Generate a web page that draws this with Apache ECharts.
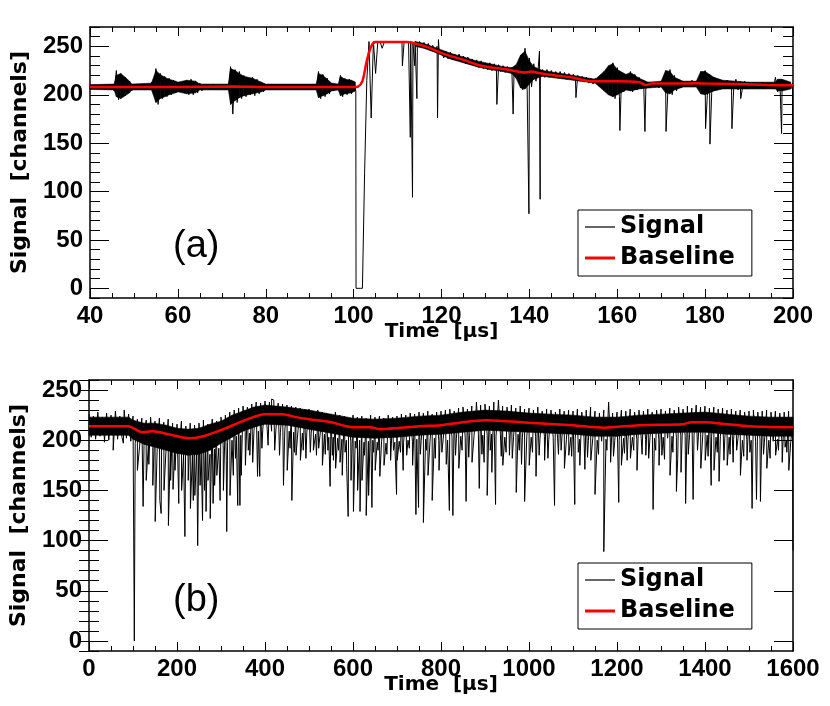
<!DOCTYPE html>
<html>
<head>
<meta charset="utf-8">
<script src="https://cdn.jsdelivr.net/npm/echarts@6/dist/echarts.min.js"></script>
<style>
  html, body { margin: 0; padding: 0; background: #fff; }
  #chart { width: 830px; height: 706px; }
</style>
</head>
<body>
<div id="chart"></div>
<script>
// panel (a): 40..200 us, samples every 0.5 us
var sigA_t0 = 40
var sigA_step = 0.5
var sigA = [
  209,206,210,207,209,206,210,207,210,206, 210,204,225,195,221,198,218,201,214,204,
  211,206,210,205,211,206,210,205,213,201, 227,190,222,196,219,198,217,200,215,202,
  213,203,212,204,215,200,216,200,214,202, 212,204,211,206,210,206,211,205,210,206,
  210,206,211,205,229,180,226,192,224,196, 220,198,217,200,218,199,216,201,213,203,
  211,205,210,206,210,206,209,206,210,206, 210,206,209,207,210,206,210,206,209,207,
  210,206,210,205,224,196,221,198,217,201, 212,204,211,205,220,198,217,200,216,201,
  214,204,0,0,0,120,215,255,176,255, 222,255,255,248,255,255,255,255,255,255,
  255,255,255,255,255,255,255,253,255,250, 255,249,254,248,253,246,251,245,250,243,
  246,238,245,237,244,236,242,235,242,234, 240,232,239,231,237,230,236,228,235,227,
  233,226,233,225,232,225,231,224,230,223, 229,223,228,221,228,218,240,205,248,204,
  238,208,232,214,227,219,226,218,226,218, 225,218,224,217,224,217,223,216,222,216,
  221,215,220,214,219,213,218,212,217,211, 217,211,217,211,222,205,228,200,233,196,
  228,198,222,203,220,206,224,203,221,205, 218,206,215,206,213,207,212,208,213,207,
  214,208,222,202,226,200,220,204,216,207, 214,209,214,208,215,209,214,208,222,202,
  225,199,221,202,218,205,216,206,214,207, 215,207,214,206,216,205,214,207,214,208,
  213,207,213,207,212,207,213,206,212,207, 212,206,218,203,216,204,214,205,213,206,
  39
]
var spikesA = [
  [100.55,0],[102.1,0],[111.1,230],[112.9,156],[113.4,94],[113.9,230],[114.4,196],
  [119.1,176],[119.3,257],[132.6,190],[136.3,180],[139.9,77],[142.3,245],[142.45,92],
  [150.6,197],[160.6,163],[166.3,162],[171.1,162],[180.1,165],[181.1,149],[186.1,165],
  [188.1,196],[197.4,160],[199.9,212]
]
// dense part of the noise: [time, low, high]
var bandA = [
  [40,205.5,210.5],[45.5,205,211],[46,198,220],[47,196,222],[48,199,218],[49,202,214],
  [49.5,205,211],[54,205,212],[55,192,225],[56,196,221],[57,198,218],[58,200,216],
  [59.5,202,214],[60,203,213],[62,201,215],[64,202,214],[65,205,211],[71.5,205,211],
  [72,190,227],[73,194,225],[74,197,222],[75,199,219],[77,201,217],[79,203,213],
  [80,205,211],[91.5,205,211],[92,197,222],[93,199,220],[94,201,216],[95,204,212],
  [96.5,205,211],[97,199,219],[98,201,216],[99.5,202,215],[100.4,204,213],
  [107,null,null],
  [114,250,255],[116,248,253],[119,243,248],[122,237,243],[125,233,239],[128,229,235],
  [131,226,232],[134,224,229],[136,222,228],[137,217,231],[138,207,241],[139,206,245],
  [140,211,235],[141,216,229],[143,219,225],[150,215,220],[155,212,216],[157,204,224],
  [158,200,230],[159,198,232],[160,200,226],[162,205,221],[163,204,223],[165,206,217],
  [167,207,213],[170,208,214],[171,202,225],[172,201,224],[173,205,218],[175,208,214],
  [178,208,214],[179,201,224],[180,200,224],[182,204,218],[184,206,215],[190,206,213],
  [196,206,213],[196.5,204,216],[197.5,204,216],[199.5,206,213]
]
var baseA = [
  [40,208],[60,208],[73,208.5],[80,208],[95,208],[100,208],[101,208.5],[102,214],
  [103,235],[104,250],[105,254.5],[112,254.5],[114,253],[117,249],[120,243],[125,236],
  [129,230],[135,226],[139,223],[140.5,224],[142,222.5],[146,220],[150,217.5],[154,214],
  [160,214],[165,213],[166.5,210],[168,211.5],[175,211.5],[178,212],[180,211.5],
  [187,211],[194,210],[200,209.7]
]

// panel (b): 0..1600 us, samples every 5 us
var sigB_t0 = 0
var sigB_step = 5
var sigB = [
  226,203,224,201,228,204,223,202,227,200, 225,204,229,201,224,203,230,202,226,199,
  224,197,221,194,222,195,220,196,223,193, 219,192,222,194,218,190,221,193,217,191,
  216,188,219,186,214,190,217,185,215,189, 217,187,220,190,216,186,221,191,219,192,
  223,195,225,198,228,200,230,204,232,205, 234,208,233,207,236,210,238,209,237,211,
  239,211,238,209,240,212,237,208,236,210, 235,209,234,208,233,210,232,207,231,208,
  231,207,229,206,230,205,228,206,227,203, 226,203,228,202,225,201,224,200,222,199,
  225,199,223,200,224,198,222,199,225,200, 223,198,224,199,222,197,225,200,223,198,
  224,199,226,198,225,200,227,199,226,201, 228,200,227,201,229,199,226,202,228,200,
  229,201,230,200,231,203,229,202,232,204, 233,203,231,205,234,204,232,206,235,205,
  236,205,234,206,238,204,235,206,234,203, 233,205,235,204,232,206,234,203,231,204,
  232,203,230,204,233,202,229,204,231,201, 230,203,228,202,231,204,229,201,230,203,
  229,202,231,201,228,203,230,200,233,202, 229,200,227,199,230,201,228,198,227,200,
  228,200,230,202,229,201,231,203,228,201, 230,202,229,201,231,203,228,202,230,201,
  231,203,229,202,232,204,230,203,233,205, 231,204,234,206,232,205,235,204,233,206,
  234,205,232,204,233,203,231,204,232,202, 230,203,231,201,229,202,230,200,228,201,
  229,200,230,199,228,201,229,198,230,200, 228,199,229,201,227,198,228,200,229,199,
  90
]
var spikesB = [
  [15,200],[35,198],[55,190],[78,197],[103,0],[110,170],[123,134],[130,160],[136,176],
  [145,155],[150.5,119],[161,140],[164,127],[170.5,150],[180.5,115],[185.5,160],[191,151],
  [195.5,170],[204,137],[210.5,150],[218,104],[225.5,160],[230.5,132],[237,140],[240.5,145],
  [247,95],[252.5,155],[258,120],[262.5,150],[266,129],[270.5,160],[275.5,122],[282,137],
  [285.5,155],[290.5,165],[298,140],[305.5,150],[312,180],[313,109],[320.5,145],[328,165],
  [333,182],[338,135],[343,135],[346,165],[355.5,175],[362,190],[365.5,185],[372,178],
  [380.5,238],[383,164],[388,164],[393,192],[407,195],[415,241],[422,190],[433,185],
  [442,155],[450.5,170],[457,192],[461,140],[467,188],[470.5,185],[480.5,180],[487,190],
  [493,182],[503,188],[510,190],[517,185],[522,192],[530.5,175],[537,186],[543,190],
  [548,154],[553,185],[555.5,180],[560.5,172],[567,190],[570.5,178],[575.5,165],[582,188],
  [585.5,175],[589,124],[595.5,160],[601,129],[607,192],[610.5,150],[616,129],[620.5,160],
  [626,185],[630,125],[635.5,145],[643,133],[647,188],[650.5,170],[657,190],[661,164],
  [670.5,175],[677,186],[685.5,180],[692,190],[699,146],[700.5,180],[708,188],[714,170],
  [722,185],[728,192],[735.5,175],[743,126],[749,133],[753,186],[760,118],[767,190],
  [770.5,165],[780,140],[787,182],[795.5,170],[802,188],[812,176],[819,130],[827,125],
  [833,185],[840.5,172],[848,190],[857,139],[863,183],[870.5,178],[880.5,238],[887,152],
  [893,186],[898,178],[905,145],[912,190],[915.5,168],[924,136],[930.5,240],[937,184],
  [940.5,175],[948,188],[955.5,185],[962,182],[971,148],[978,190],[983,176],[990,139],
  [1000.5,175],[1008,188],[1016,164],[1023,185],[1035.5,180],[1043,182],[1058,135],
  [1067,186],[1073,190],[1080.5,172],[1090.5,185],[1097,184],[1104,136],[1112,188],
  [1115.5,175],[1127,171],[1133,183],[1140.5,180],[1150,146],[1158,186],[1170,89],
  [1177,190],[1181,238],[1185.5,178],[1192,184],[1204,138],[1210,175],[1217,187],
  [1223,180],[1230.5,182],[1238,190],[1245.5,170],[1257,186],[1265.5,185],[1272,182],
  [1282,131],[1288,190],[1295.5,175],[1302,185],[1308,181],[1320.5,165],[1327,188],
  [1335,149],[1338,182],[1345.5,168],[1356,137],[1362,186],[1373,141],[1383,190],
  [1390.5,172],[1400.5,180],[1407,184],[1414,155],[1420.5,170],[1428,188],[1432,159],
  [1443,180],[1450.5,175],[1457,186],[1464,178],[1472,190],[1480.5,165],[1488,184],
  [1495.5,180],[1502,188],[1507,132],[1517,141],[1526,139],[1533,186],[1540.5,172],
  [1548,182],[1560.5,185],[1567,190],[1575.5,178],[1582,193],[1586,188],[1590.5,170],
  [1599,215]
]
var bandB = [
  [0,205,223],[90,205,223],[100,201,220],[125,196,217],[150,193,217],[175,190,215],
  [200,187,212],[225,185,211],[250,186,212],[275,190,216],[300,197,219],[325,203,225],
  [350,209,229],[375,213,233],[400,216,235],[450,215,233],[500,211,230],[550,207,226],
  [600,203,222],[650,202,221],[700,203,222],[750,205,224],[800,206,225],[850,208,228],
  [900,210,230],[950,209,229],[1000,208,227],[1050,207,226],[1100,206,225],[1150,204,223],
  [1200,204,223],[1250,206,225],[1300,207,226],[1350,208,227],[1400,208,228],[1450,206,226],
  [1500,205,224],[1550,204,223],[1600,204,223]
]
var baseB = [
  [0,214],[90,214],[105,211],[120,208],[145,209],[180,206],[230,202],[260,204],[300,210],
  [350,219],[400,226],[440,226],[470,223],[500,221],[550,218],[600,213],[640,213],[660,211],
  [700,212],[750,214],[800,215],[850,218],[900,220],[950,219],[1000,217.5],[1100,215],
  [1170,212.5],[1250,215],[1350,216],[1370,218],[1400,218],[1450,216],[1500,214],[1600,213]
]

var yMajorTicks = [0, 50, 100, 150, 200, 250]

function buildSignal(values, t0, step, spikes) {
  var pts = values.map(function (v, i) { return [t0 + i * step, v] })
  pts = pts.concat(spikes)
  pts.sort(function (a, b) { return a[0] - b[0] })
  return pts
}

// fills the dense noise between two neighbouring band entries
function renderBand(params, api) {
  var i = params.dataIndexInside
  if (i >= params.dataInsideLength - 1) return
  var lo0 = api.value(1, i), hi0 = api.value(2, i)
  var lo1 = api.value(1, i + 1), hi1 = api.value(2, i + 1)
  if (!isFinite(lo0) || !isFinite(lo1) || lo0 === null || lo1 === null) return
  var t0 = api.value(0, i), t1 = api.value(0, i + 1)
  var pts = [api.coord([t0, lo0]), api.coord([t0, hi0]), api.coord([t1, hi1]), api.coord([t1, lo1])]
  return {
    type: 'polygon',
    shape: { points: pts },
    style: { fill: '#000', stroke: '#000', lineWidth: 0.6 }
  }
}

var numFont = 'Liberation Sans'
var titleFont = 'DejaVu Sans'
var lineCol = '#000'

function xAxes(grid, min, max, interval) {
  var common = {
    type: 'value', gridIndex: grid, min: min, max: max, interval: interval,
    axisLine: { show: true, onZero: false, lineStyle: { color: lineCol, width: 1.5 } },
    axisTick: { inside: true, length: 9, lineStyle: { color: lineCol, width: 1 } },
    minorTick: { show: true, splitNumber: 4, length: 5, lineStyle: { color: lineCol, width: 1 } },
    splitLine: { show: false }
  }
  var bottom = Object.assign({}, common, {
    position: 'bottom',
    name: 'Time  [\u03bcs]',
    nameLocation: 'middle',
    nameGap: 24,
    nameMoveOverlap: false,
    nameTextStyle: { fontFamily: titleFont, fontWeight: 'bold', fontSize: 20, color: '#000' },
    axisLabel: { show: true, margin: 6, showMinLabel: true, showMaxLabel: true,
      formatter: function (v) { return String(v) },
      fontFamily: numFont, fontWeight: 'bold', fontSize: 24, color: '#000' }
  })
  var top = Object.assign({}, common, { position: 'top', axisLabel: { show: false } })
  return [bottom, top]
}

function yAxes(grid, min, max) {
  var line = { show: true, onZero: false, lineStyle: { color: lineCol, width: 1.5 } }
  var major = {
    type: 'value', gridIndex: grid, min: min, max: max,
    axisLine: line,
    axisTick: { inside: true, length: 19, customValues: yMajorTicks, lineStyle: { color: lineCol, width: 1 } },
    splitLine: { show: false }
  }
  var minor = {
    type: 'value', gridIndex: grid, min: min, max: max, interval: 10,
    axisLine: { show: false },
    axisTick: { inside: true, length: 10, lineStyle: { color: lineCol, width: 1 } },
    axisLabel: { show: false },
    splitLine: { show: false }
  }
  var left = Object.assign({}, major, {
    position: 'left',
    name: 'Signal  [channels]',
    nameLocation: 'middle',
    nameGap: 59,
    nameTextStyle: { fontFamily: titleFont, fontWeight: 'bold', fontSize: 22, color: '#000' },
    axisLabel: { show: true, margin: 7, customValues: yMajorTicks,
      fontFamily: numFont, fontWeight: 'bold', fontSize: 24, color: '#000' }
  })
  var right = Object.assign({}, major, { position: 'right', axisLabel: { show: false } })
  return [left,
    Object.assign({}, minor, { position: 'left' }),
    right,
    Object.assign({}, minor, { position: 'right' })]
}

function legendAt(top) {
  return {
    orient: 'vertical', left: 578, top: top,
    data: [
      { name: 'Signal', icon: 'path://M0,0H30V1.2H0Z' },
      { name: 'Baseline', icon: 'path://M0,0H30V3H0Z' }
    ],
    backgroundColor: '#fff',
    borderColor: '#000', borderWidth: 1, borderRadius: 0,
    padding: [5, 17, 6, 7], itemGap: 7, itemWidth: 30, itemHeight: 25,
    selectedMode: false,
    textStyle: { fontFamily: titleFont, fontWeight: 'bold', fontSize: 24, color: '#000' }
  }
}

var chart = echarts.init(document.getElementById('chart'))

var option = {
  animation: false,
  backgroundColor: '#fff',
  grid: [
    { left: 90, top: 27, width: 703, height: 271 },
    { left: 89, top: 380, width: 704, height: 271 }
  ],
  xAxis: xAxes(0, 40, 200, 20).concat(xAxes(1, 0, 1600, 200)),
  yAxis: yAxes(0, -10, 270).concat(yAxes(1, -10, 260)),
  legend: [legendAt(210), legendAt(563)],
  graphic: [
    { type: 'text', left: 173, top: 228, style: { text: '(a)', font: '38px "Liberation Sans"', fill: '#000' } },
    { type: 'text', left: 173, top: 582, style: { text: '(b)', font: '38px "Liberation Sans"', fill: '#000' } }
  ],
  series: [
    { name: 'Signal', type: 'line', xAxisIndex: 0, yAxisIndex: 0, symbol: 'none',
      data: buildSignal(sigA, sigA_t0, sigA_step, spikesA),
      lineStyle: { color: '#000', width: 1 }, itemStyle: { color: '#000' }, z: 2 },
    { type: 'custom', xAxisIndex: 0, yAxisIndex: 0, renderItem: renderBand,
      data: bandA, silent: true, z: 2 },
    { name: 'Baseline', type: 'line', xAxisIndex: 0, yAxisIndex: 0, symbol: 'none', smooth: 0.3,
      data: baseA, lineStyle: { color: '#ff0000', width: 2.5 }, itemStyle: { color: '#ff0000' }, z: 3 },
    { name: 'Signal', type: 'line', xAxisIndex: 2, yAxisIndex: 4, symbol: 'none',
      data: buildSignal(sigB, sigB_t0, sigB_step, spikesB),
      lineStyle: { color: '#000', width: 1 }, itemStyle: { color: '#000' }, z: 2 },
    { type: 'custom', xAxisIndex: 2, yAxisIndex: 4, renderItem: renderBand,
      data: bandB, silent: true, z: 2 },
    { name: 'Baseline', type: 'line', xAxisIndex: 2, yAxisIndex: 4, symbol: 'none', smooth: 0.3,
      data: baseB, lineStyle: { color: '#ff0000', width: 2.5 }, itemStyle: { color: '#ff0000' }, z: 3 }
  ]
}

chart.setOption(option)
</script>
</body>
</html>
